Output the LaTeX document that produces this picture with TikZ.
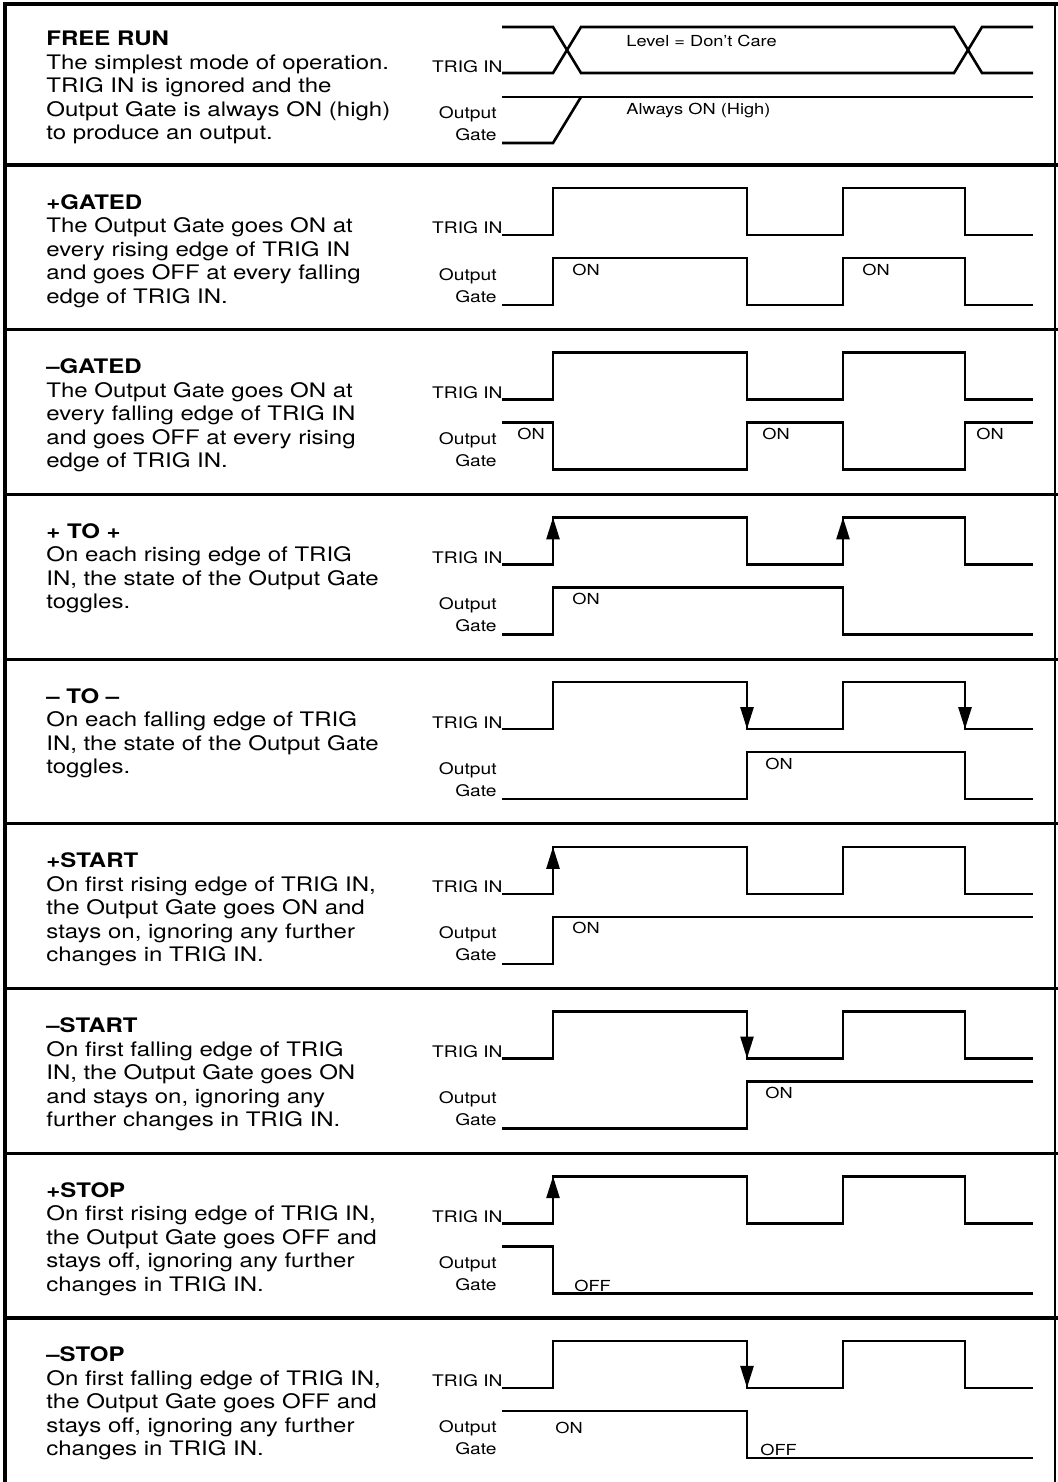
\documentclass[tikz,border=0pt]{standalone}
\usepackage{fontspec}
\setmainfont{TeX Gyre Heros}[FakeStretch=1.2]
\usepackage{tikz}
\usetikzlibrary{arrows.meta}
\tikzstyle{modetext} = [anchor=base west, align=left, inner sep=0pt, font=\fontsize{10}{11.75}\selectfont]
\tikzstyle{siglabel} = [anchor=base east, inner sep=0pt, font=\fontsize{8}{10}\selectfont]
\tikzstyle{gatelabel} = [anchor=base east, align=right, inner sep=0pt, font=\fontsize{8}{11}\selectfont]
\tikzstyle{statelabel} = [anchor=base west, inner sep=0pt, font=\fontsize{7.6}{9}\selectfont]
\tikzstyle{signal} = [line width=1.3pt]
\tikzstyle{edgemark} = [line width=1.3pt, -{Triangle[length=11pt, width=6.5pt]}]
\tikzstyle{frame} = [line width=1.6pt]

\begin{document}
\begin{tikzpicture}[x=0.5pt, y=-0.5pt]
	\useasboundingbox (0,0) rectangle (1058,1482);
	% Frame and row rules
	\draw[frame] (1058,4) -- (5,4) -- (5,1482);
	\draw[line width=0.6pt] (1055,4) -- (1055,1482);
	\draw[frame] (5,165) -- (1058,165);
	\draw[frame] (5,329.7) -- (1058,329.7);
	\draw[frame] (5,494.4) -- (1058,494.4);
	\draw[frame] (5,659.1) -- (1058,659.1);
	\draw[frame] (5,823.8) -- (1058,823.8);
	\draw[frame] (5,988.5) -- (1058,988.5);
	\draw[frame] (5,1153.2) -- (1058,1153.2);
	\draw[frame] (5,1317.9) -- (1058,1317.9);

	% FREE RUN
	\begin{scope}[shift={(0,4)}]
		\node[modetext] (freerun) at (46,136) {{\bfseries FREE RUN}\\The simplest mode of operation.\\TRIG IN is ignored and the\\Output Gate is always ON (high)\\to produce an output.};
		\node[siglabel] (trig1) at (503,69) {TRIG IN};
		\node[gatelabel] (gate1) at (497,137) {Output\\Gate};
		\draw[signal] (502,23) -- (553,23) -- (581,69) -- (954,69) -- (982,23) -- (1033,23);
		\draw[signal] (502,69) -- (553,69) -- (581,23) -- (954,23) -- (982,69) -- (1033,69);
		\draw[signal] (502,93) -- (1033,93);
		\draw[signal] (502,139) -- (553,139) -- (581,93);
		\node[statelabel] (level1) at (626,43) {Level = Don't Care};
		\node[statelabel] (always1) at (626,111) {Always ON (High)};
	\end{scope}

	% +GATED
	\begin{scope}[shift={(0,165)}]
		\node[modetext] (pgated) at (46,138) {{\bfseries +GATED}\\The Output Gate goes ON at\\every rising edge of TRIG IN\\and goes OFF at every falling\\edge of TRIG IN.};
		\node[siglabel] (trig2) at (503,69) {TRIG IN};
		\node[gatelabel] (gate2) at (497,137) {Output\\Gate};
		\draw[signal] (502,70) -- (553,70) -- (553,23) -- (747,23) -- (747,70) -- (843,70) -- (843,23) -- (965,23) -- (965,70) -- (1033,70);
		\draw[signal] (502,140) -- (553,140) -- (553,93) -- (747,93) -- (747,140) -- (843,140) -- (843,93) -- (965,93) -- (965,140) -- (1033,140);
		\node[statelabel] (on2a) at (572,110) {ON};
		\node[statelabel] (on2b) at (862,110) {ON};
	\end{scope}

	% -GATED
	\begin{scope}[shift={(0,329.7)}]
		\node[modetext] (mgated) at (46,138) {{\bfseries –GATED}\\The Output Gate goes ON at\\every falling edge of TRIG IN\\and goes OFF at every rising\\edge of TRIG IN.};
		\node[siglabel] (trig3) at (503,69) {TRIG IN};
		\node[gatelabel] (gate3) at (497,137) {Output\\Gate};
		\draw[signal] (502,70) -- (553,70) -- (553,23) -- (747,23) -- (747,70) -- (843,70) -- (843,23) -- (965,23) -- (965,70) -- (1033,70);
		\draw[signal] (502,93) -- (553,93) -- (553,140) -- (747,140) -- (747,93) -- (843,93) -- (843,140) -- (965,140) -- (965,93) -- (1033,93);
		\node[statelabel] (on3a) at (517,110) {ON};
		\node[statelabel] (on3b) at (762,110) {ON};
		\node[statelabel] (on3c) at (976,110) {ON};
	\end{scope}

	% + TO +
	\begin{scope}[shift={(0,494.4)}]
		\node[modetext] (ptop) at (46,114.5) {{\bfseries + TO +}\\On each rising edge of TRIG\\IN, the state of the Output Gate\\toggles.};
		\node[siglabel] (trig4) at (503,69) {TRIG IN};
		\node[gatelabel] (gate4) at (497,137) {Output\\Gate};
		\draw[signal] (502,70) -- (553,70) -- (553,23) -- (747,23) -- (747,70) -- (843,70) -- (843,23) -- (965,23) -- (965,70) -- (1033,70);
		\draw[edgemark] (553,55) -- (553,23);
		\draw[edgemark] (843,55) -- (843,23);
		\draw[signal] (502,140) -- (553,140) -- (553,93) -- (843,93) -- (843,140) -- (1033,140);
		\node[statelabel] (on4) at (572,110) {ON};
	\end{scope}

	% - TO -
	\begin{scope}[shift={(0,659.1)}]
		\node[modetext] (mtom) at (46,114.5) {{\bfseries – TO –}\\On each falling edge of TRIG\\IN, the state of the Output Gate\\toggles.};
		\node[siglabel] (trig5) at (503,69) {TRIG IN};
		\node[gatelabel] (gate5) at (497,137) {Output\\Gate};
		\draw[signal] (502,70) -- (553,70) -- (553,23) -- (747,23) -- (747,70) -- (843,70) -- (843,23) -- (965,23) -- (965,70) -- (1033,70);
		\draw[edgemark] (747,38) -- (747,70);
		\draw[edgemark] (965,38) -- (965,70);
		\draw[signal] (502,140) -- (747,140) -- (747,93) -- (965,93) -- (965,140) -- (1033,140);
		\node[statelabel] (on5) at (765,110) {ON};
	\end{scope}

	% +START
	\begin{scope}[shift={(0,823.8)}]
		\node[modetext] (pstart) at (46,138) {{\bfseries +START}\\On first rising edge of TRIG IN,\\the Output Gate goes ON and\\stays on, ignoring any further\\changes in TRIG IN.};
		\node[siglabel] (trig6) at (503,69) {TRIG IN};
		\node[gatelabel] (gate6) at (497,137) {Output\\Gate};
		\draw[signal] (502,70) -- (553,70) -- (553,23) -- (747,23) -- (747,70) -- (843,70) -- (843,23) -- (965,23) -- (965,70) -- (1033,70);
		\draw[edgemark] (553,55) -- (553,23);
		\draw[signal] (502,140) -- (553,140) -- (553,93) -- (1033,93);
		\node[statelabel] (on6) at (572,110) {ON};
	\end{scope}

	% -START
	\begin{scope}[shift={(0,988.5)}]
		\node[modetext] (mstart) at (46,138) {{\bfseries –START}\\On first falling edge of TRIG\\IN, the Output Gate goes ON\\and stays on, ignoring any\\further changes in TRIG IN.};
		\node[siglabel] (trig7) at (503,69) {TRIG IN};
		\node[gatelabel] (gate7) at (497,137) {Output\\Gate};
		\draw[signal] (502,70) -- (553,70) -- (553,23) -- (747,23) -- (747,70) -- (843,70) -- (843,23) -- (965,23) -- (965,70) -- (1033,70);
		\draw[edgemark] (747,38) -- (747,70);
		\draw[signal] (502,140) -- (747,140) -- (747,93) -- (1033,93);
		\node[statelabel] (on7) at (765,110) {ON};
	\end{scope}

	% +STOP
	\begin{scope}[shift={(0,1153.2)}]
		\node[modetext] (pstop) at (46,138) {{\bfseries +STOP}\\On first rising edge of TRIG IN,\\the Output Gate goes OFF and\\stays off, ignoring any further\\changes in TRIG IN.};
		\node[siglabel] (trig8) at (503,69) {TRIG IN};
		\node[gatelabel] (gate8) at (497,137) {Output\\Gate};
		\draw[signal] (502,70) -- (553,70) -- (553,23) -- (747,23) -- (747,70) -- (843,70) -- (843,23) -- (965,23) -- (965,70) -- (1033,70);
		\draw[edgemark] (553,55) -- (553,23);
		\draw[signal] (502,93) -- (553,93) -- (553,140) -- (1033,140);
		\node[statelabel] (off8) at (574,138) {OFF};
	\end{scope}

	% -STOP
	\begin{scope}[shift={(0,1317.9)}]
		\node[modetext] (mstop) at (46,138) {{\bfseries –STOP}\\On first falling edge of TRIG IN,\\the Output Gate goes OFF and\\stays off, ignoring any further\\changes in TRIG IN.};
		\node[siglabel] (trig9) at (503,69) {TRIG IN};
		\node[gatelabel] (gate9) at (497,137) {Output\\Gate};
		\draw[signal] (502,70) -- (553,70) -- (553,23) -- (747,23) -- (747,70) -- (843,70) -- (843,23) -- (965,23) -- (965,70) -- (1033,70);
		\draw[edgemark] (747,38) -- (747,70);
		\draw[signal] (502,93) -- (747,93) -- (747,140) -- (1033,140);
		\node[statelabel] (on9) at (555,116) {ON};
		\node[statelabel] (off9) at (760,138) {OFF};
	\end{scope}
\end{tikzpicture}
\end{document}
